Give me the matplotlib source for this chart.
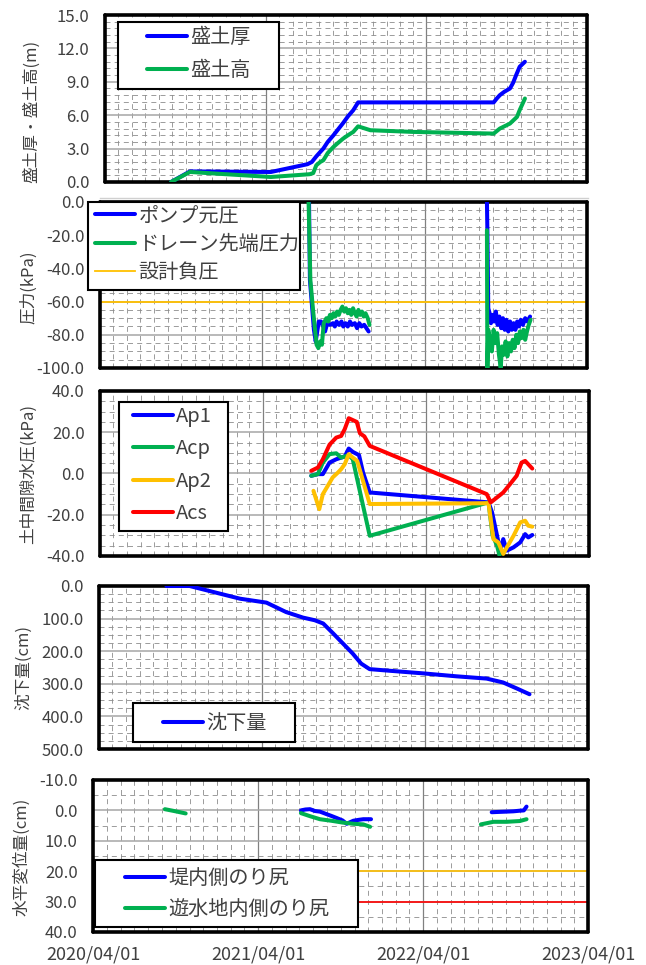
import matplotlib
matplotlib.use('Agg')
import matplotlib.pyplot as plt
import matplotlib.dates as mdates
from matplotlib.patches import Rectangle
from matplotlib.lines import Line2D
from matplotlib.ticker import MultipleLocator, FormatStrFormatter
import numpy as np
import pandas as pd

plt.rcParams['font.family'] = ['Noto Sans CJK JP', 'DejaVu Sans']

BLUE = '#0000FF'
GREEN = '#00B050'
ORANGE = '#FFC000'
RED = '#FF0000'
TXT = '#404040'
nan = np.nan

###data###
# 盛土厚 / 盛土高 (m)
fill_thick_dates = ['2020-08-29', '2020-10-11', '2021-04-13', '2021-07-05', '2021-07-15',
                    '2021-07-25', '2021-08-03', '2021-08-10', '2021-08-20', '2021-09-02',
                    '2021-09-12', '2021-09-24', '2021-10-05', '2021-10-17', '2021-10-28',
                    '2022-09-01', '2022-09-08', '2022-09-15', '2022-09-25', '2022-10-08',
                    '2022-10-15', '2022-10-22', '2022-10-30', '2022-11-11']
fill_thick = [0.0, 0.95, 0.9, 1.6, 1.8,
              2.3, 2.7, 3.0, 3.6, 4.2,
              4.7, 5.3, 5.9, 6.45, 7.15,
              7.15, 7.5, 7.8, 8.1, 8.4,
              8.9, 9.6, 10.35, 10.8]
fill_height_dates = ['2020-08-29', '2020-10-11', '2021-04-13', '2021-07-10', '2021-07-18',
                     '2021-07-25', '2021-08-03', '2021-08-10', '2021-08-20', '2021-09-02',
                     '2021-09-12', '2021-09-24', '2021-10-05', '2021-10-17', '2021-10-28',
                     '2021-11-13', '2021-11-25', '2022-03-01', '2022-09-01', '2022-09-15',
                     '2022-10-08', '2022-10-24', '2022-10-30', '2022-11-11']
fill_height = [0.0, 0.9, 0.45, 0.7, 0.8,
               1.5, 1.8, 1.95, 2.6, 3.15,
               3.5, 3.9, 4.2, 4.5, 5.0,
               4.8, 4.65, 4.5, 4.35, 4.8,
               5.25, 5.85, 6.45, 7.5]

# 圧力 (kPa)
pump_dates = ['2021-07-15', '2021-07-17', '2021-07-20', '2021-07-26', '2021-07-30', '2021-08-03',
              '2021-08-06', '2021-08-11', '2021-08-16', '2021-08-20', '2021-08-25', '2021-08-31',
              '2021-09-07', '2021-09-11', '2021-09-15', '2021-09-20', '2021-09-26', '2021-09-30',
              '2021-10-05', '2021-10-10', '2021-10-15', '2021-10-20', '2021-10-26', '2021-10-31',
              '2021-11-05', '2021-11-10', '2021-11-16', '2021-11-21', '2021-11-26', '2022-03-01',
              '2022-08-19', '2022-08-20', '2022-08-22', '2022-08-25', '2022-08-28', '2022-08-31',
              '2022-09-04', '2022-09-08', '2022-09-12', '2022-09-16', '2022-09-20', '2022-09-24',
              '2022-09-28', '2022-10-02', '2022-10-06', '2022-10-10', '2022-10-14', '2022-10-18',
              '2022-10-22', '2022-10-26', '2022-10-30', '2022-11-03', '2022-11-08', '2022-11-13',
              '2022-11-18', '2022-11-24']
pump_pressure = [0, -47, -57, -77, -84, -77,
                 -72, -72, -75, -78, -73, -74,
                 -73, -75, -72, -74, -72, -75,
                 -73, -75, -72, -74, -73, -76,
                 -73, -75, -74, -76, -78, nan,
                 0, -17, -64, -67, -73, -68,
                 -72, -66, -74, -69, -76, -70,
                 -77, -71, -78, -72, -77, -73,
                 -77, -72, -75, -71, -74, -70,
                 -72, -69]
drain_dates = ['2021-07-14', '2021-07-18', '2021-07-24', '2021-08-01', '2021-08-05', '2021-08-09',
               '2021-08-13', '2021-08-17', '2021-08-23', '2021-08-27', '2021-08-31', '2021-09-04',
               '2021-09-08', '2021-09-12', '2021-09-16', '2021-09-20', '2021-09-24', '2021-09-28',
               '2021-10-02', '2021-10-06', '2021-10-10', '2021-10-14', '2021-10-18', '2021-10-22',
               '2021-10-26', '2021-10-30', '2021-11-03', '2021-11-07', '2021-11-11', '2021-11-15',
               '2021-11-19', '2021-11-24', '2021-11-28', '2022-03-01',
               '2022-08-19', '2022-08-20', '2022-08-22', '2022-08-26', '2022-08-30', '2022-09-03',
               '2022-09-07', '2022-09-11', '2022-09-15', '2022-09-19', '2022-09-22', '2022-09-26',
               '2022-09-30', '2022-10-04', '2022-10-08', '2022-10-12', '2022-10-16', '2022-10-20',
               '2022-10-24', '2022-10-28', '2022-11-01', '2022-11-05', '2022-11-09', '2022-11-13',
               '2022-11-17', '2022-11-21', '2022-11-25']
drain_pressure = [0, -47, -65, -86, -88, -84,
                  -86, -73, -70, -72, -68, -70,
                  -67, -69, -66, -68, -65, -63,
                  -66, -64, -67, -65, -68, -64,
                  -67, -69, -65, -68, -66, -69,
                  -67, -70, -74, nan,
                  -17, -100, -77, -83, -90, -77,
                  -85, -79, -92, -100, -87, -92,
                  -84, -93, -85, -90, -83, -88,
                  -80, -85, -78, -82, -77, -83,
                  -78, -74, -71]
design_pressure = -60

# 土中間隙水圧 (kPa)
ap1_dates = ['2021-07-18', '2021-08-02', '2021-08-13', '2021-08-28', '2021-09-12', '2021-09-23',
             '2021-10-01', '2021-10-10', '2021-10-19', '2021-11-02', '2021-11-11', '2021-11-26',
             '2022-08-19', '2022-08-27', '2022-09-07', '2022-09-14', '2022-09-21', '2022-09-29',
             '2022-10-14', '2022-10-29', '2022-11-09', '2022-11-16', '2022-11-25']
ap1 = [-1.1, -0.3, -0.3, 5.3, 6.9, 7.7,
       8.2, 12.1, 10.5, 8.9, 0.5, -9.2,
       -14.0, -18.9, -30.0, -37.4, -31.8, -37.4,
       -35.8, -33.4, -29.4, -31.0, -29.8]
acp_dates = ['2021-07-18', '2021-08-02', '2021-08-13', '2021-08-28', '2021-09-12', '2021-09-23',
             '2021-10-10', '2021-10-19', '2021-11-26', '2022-08-19', '2022-08-28', '2022-09-07',
             '2022-09-14']
acp = [-1.1, -0.3, 5.3, 9.4, 9.8, 7.7,
       8.9, 6.9, -30.2, -14.0, -30.0, -35.0,
       -41.0]
ap2_dates = ['2021-07-23', '2021-08-05', '2021-08-13', '2021-08-24', '2021-09-04', '2021-09-16',
             '2021-09-23', '2021-10-01', '2021-10-10', '2021-10-19', '2021-10-29', '2021-11-26',
             '2022-08-19', '2022-08-30', '2022-09-10', '2022-09-21', '2022-09-29', '2022-10-14',
             '2022-10-29', '2022-11-09', '2022-11-16', '2022-11-25']
ap2 = [-8.4, -17.3, -10.0, -6.0, -1.9, 0.5,
       2.1, 4.5, 9.4, 7.7, 6.1, -14.8,
       -14.4, -31.8, -33.4, -39.0, -35.8, -30.2,
       -23.7, -22.9, -25.3, -25.8]
acs_dates = ['2021-07-18', '2021-08-02', '2021-08-13', '2021-08-28', '2021-09-12', '2021-09-23',
             '2021-10-01', '2021-10-10', '2021-10-28', '2021-11-04', '2021-11-14', '2021-11-26',
             '2022-08-15', '2022-08-24', '2022-09-07', '2022-09-21', '2022-10-06', '2022-10-21',
             '2022-11-01', '2022-11-09', '2022-11-16', '2022-11-25']
acs = [1.3, 2.9, 6.9, 14.0, 17.4, 18.2,
       21.5, 26.8, 25.0, 19.5, 18.0, 13.4,
       -10.0, -14.0, -11.6, -9.2, -5.2, -1.1,
       5.3, 6.1, 4.5, 2.4]

# 沈下量 (cm)
settle_dates = ['2020-08-30', '2020-10-21', '2020-12-12', '2021-02-11', '2021-04-11', '2021-05-25',
                '2021-07-02', '2021-07-28', '2021-08-16', '2021-09-07', '2021-09-29', '2021-10-21',
                '2021-11-09', '2021-11-28', '2022-01-12', '2022-03-28', '2022-06-10', '2022-08-17',
                '2022-09-23', '2022-10-23', '2022-11-21']
settlement = [0, 0, 18, 39, 51, 80,
              97, 105, 115, 145, 176, 207,
              238, 255, 260, 268, 277, 284,
              296, 314, 332]

# 水平変位量 (cm)
toe_in_dates = ['2021-07-05', '2021-07-15', '2021-07-25', '2021-08-05', '2021-08-16', '2021-08-31',
                '2021-09-10', '2021-09-22', '2021-10-05', '2021-10-14', '2021-10-29', '2021-11-10',
                '2021-11-20', '2021-12-07', '2022-03-01',
                '2022-08-31', '2022-09-15', '2022-10-03', '2022-10-18', '2022-11-01', '2022-11-10',
                '2022-11-16']
toe_in = [0.0, -0.3, -0.4, 0.2, 0.4, 1.25,
          1.8, 2.5, 3.3, 4.4, 3.4, 3.1,
          2.9, 2.9, nan,
          0.6, 0.5, 0.4, 0.3, 0.1, 0.0,
          -1.25]
toe_pond_dates = ['2020-09-07', '2020-09-29', '2020-10-23', '2021-03-01',
                  '2021-07-05', '2021-07-25', '2021-08-16', '2021-09-10', '2021-10-05', '2021-10-29',
                  '2021-11-20', '2021-12-05', '2022-03-01',
                  '2022-08-07', '2022-09-04', '2022-10-03', '2022-11-01', '2022-11-16']
toe_pond = [-0.4, 0.25, 1.0, nan,
            0.9, 1.9, 2.9, 3.4, 4.0, 4.4,
            4.6, 5.4, nan,
            4.6, 3.75, 3.75, 3.5, 2.9]
limit_caution = 20
limit_alarm = 30

x_ticks = ['2020-04-01', '2021-04-01', '2022-04-01', '2023-04-01']

W, H = 646, 965
fig = plt.figure(figsize=(W / 100, H / 100), dpi=100)


def add_ax(x0, y0, x1, y1):
    # pixel box -> figure coords
    return fig.add_axes([x0 / W, 1 - y1 / H, (x1 - x0) / W, (y1 - y0) / H])


def setup(ax, lo, hi, major, minor, invert=False):
    ax.set_xlim(pd.Timestamp(x_ticks[0]), pd.Timestamp(x_ticks[-1]))
    if invert:
        ax.set_ylim(hi, lo)
    else:
        ax.set_ylim(lo, hi)
    ax.set_xticks(pd.to_datetime(x_ticks))
    ax.xaxis.set_minor_locator(mdates.MonthLocator())
    ax.xaxis.set_major_formatter(mdates.DateFormatter('%Y/%m/%d'))
    ax.yaxis.set_major_locator(MultipleLocator(major))
    ax.yaxis.set_minor_locator(MultipleLocator(minor))
    ax.yaxis.set_major_formatter(FormatStrFormatter('%.1f'))
    ax.grid(which='major', axis='x', color='#808080', lw=0.9)
    ax.grid(which='major', axis='y', color='#a6a6a6', lw=1.1)
    ax.grid(which='minor', color='#8c8c8c', lw=0.6, ls=(0, (6, 5)))
    ax.tick_params(which='both', length=0, labelsize=12, labelcolor=TXT, pad=11)
    ax.tick_params(axis='x', labelbottom=False)
    for s in ax.spines.values():
        s.set_linewidth(2.6)
        s.set_color('black')
        s.set_capstyle('round')
    ax.set_axisbelow(True)


def legend_box(ax, box, anchor, spacing):
    x0, y0, x1, y1 = box
    fig.add_artist(Rectangle((x0 / W, 1 - y1 / H), (x1 - x0) / W, (y1 - y0) / H,
                             transform=fig.transFigure, fc='white', ec='black', lw=1.5, zorder=4))
    h, l = ax.get_legend_handles_labels()
    leg = fig.legend(h, l, loc='upper left', bbox_to_anchor=(anchor[0] / W, 1 - anchor[1] / H),
                     frameon=False, fontsize=14.5, labelcolor=TXT, borderpad=0, borderaxespad=0,
                     handlelength=2.0, handletextpad=0.15, labelspacing=spacing)
    leg.set_zorder(5)


def ylab(ax, text, x, y):
    ax.set_ylabel(text, fontsize=12, color=TXT)
    ax.yaxis.set_label_coords(x, y)


lw = 2.9
kw = dict(lw=lw, solid_joinstyle='round', solid_capstyle='round', zorder=3)

# panel 1
ax1 = add_ax(105, 15, 587, 182)
setup(ax1, 0, 15, 3, 0.6)
ax1.plot(pd.to_datetime(fill_thick_dates), fill_thick, color=BLUE, label='盛土厚', **kw)
ax1.plot(pd.to_datetime(fill_height_dates), fill_height, color=GREEN, label='盛土高', **kw)
ylab(ax1, '盛土厚・盛土高(m)', -0.135, 0.425)
legend_box(ax1, (118, 22, 279, 89), (147, 27), 0.58)

fig.add_artist(Line2D([100 / W, 588 / W], [1 - 198 / H, 1 - 198 / H], color='#d0d0d0', lw=1))

# panel 2
ax2 = add_ax(100, 202, 587, 368)
setup(ax2, -100, 0, 20, 5)
ax2.plot(pd.to_datetime(pump_dates), pump_pressure, color=BLUE, label='ポンプ元圧', **kw)
ax2.plot(pd.to_datetime(drain_dates), drain_pressure, color=GREEN, label='ドレーン先端圧力', **kw)
ax2.axhline(design_pressure, color=ORANGE, lw=1.3, label='設計負圧')
ylab(ax2, '圧力(kPa)', -0.129, 0.488)
legend_box(ax2, (88, 202, 300, 290), (95, 205), 0.38)

# panel 3
ax3 = add_ax(100, 391, 589, 556)
setup(ax3, -40, 40, 20, 5)
ax3.plot(pd.to_datetime(ap1_dates), ap1, color=BLUE, label='Ap1', **kw)
ax3.plot(pd.to_datetime(acp_dates), acp, color=GREEN, label='Acp', **kw)
ax3.plot(pd.to_datetime(ap2_dates), ap2, color=ORANGE, label='Ap2', **kw)
ax3.plot(pd.to_datetime(acs_dates), acs, color=RED, label='Acs', **kw)
ylab(ax3, '土中間隙水圧(kPa)', -0.129, 0.5)
legend_box(ax3, (119, 402, 228, 531), (133, 406), 0.57)

# panel 4
ax4 = add_ax(99, 586, 588, 749)
setup(ax4, 0, 500, 100, 25, invert=True)
ax4.plot(pd.to_datetime(settle_dates), settlement, color=BLUE, label='沈下量', **kw)
ylab(ax4, '沈下量(cm)', -0.137, 0.499)
legend_box(ax4, (133, 703, 295, 742), (163, 713), 0.5)

# panel 5
ax5 = add_ax(93, 780, 588, 932)
setup(ax5, -10, 40, 10, 5, invert=True)
ax5.plot(pd.to_datetime(toe_in_dates), toe_in, color=BLUE, label='堤内側のり尻', **kw)
ax5.plot(pd.to_datetime(toe_pond_dates), toe_pond, color=GREEN, label='遊水地内側のり尻', **kw)
ax5.axhline(limit_caution, color=ORANGE, lw=1.2)
ax5.axhline(limit_alarm, color=RED, lw=1.2)
ylab(ax5, '水平変位量(cm)', -0.127, 0.493)
ax5.tick_params(axis='x', labelbottom=True, labelsize=13, pad=10)
legend_box(ax5, (95, 860, 358, 927), (125, 868), 0.48)

plt.savefig('out.png', dpi=100)
